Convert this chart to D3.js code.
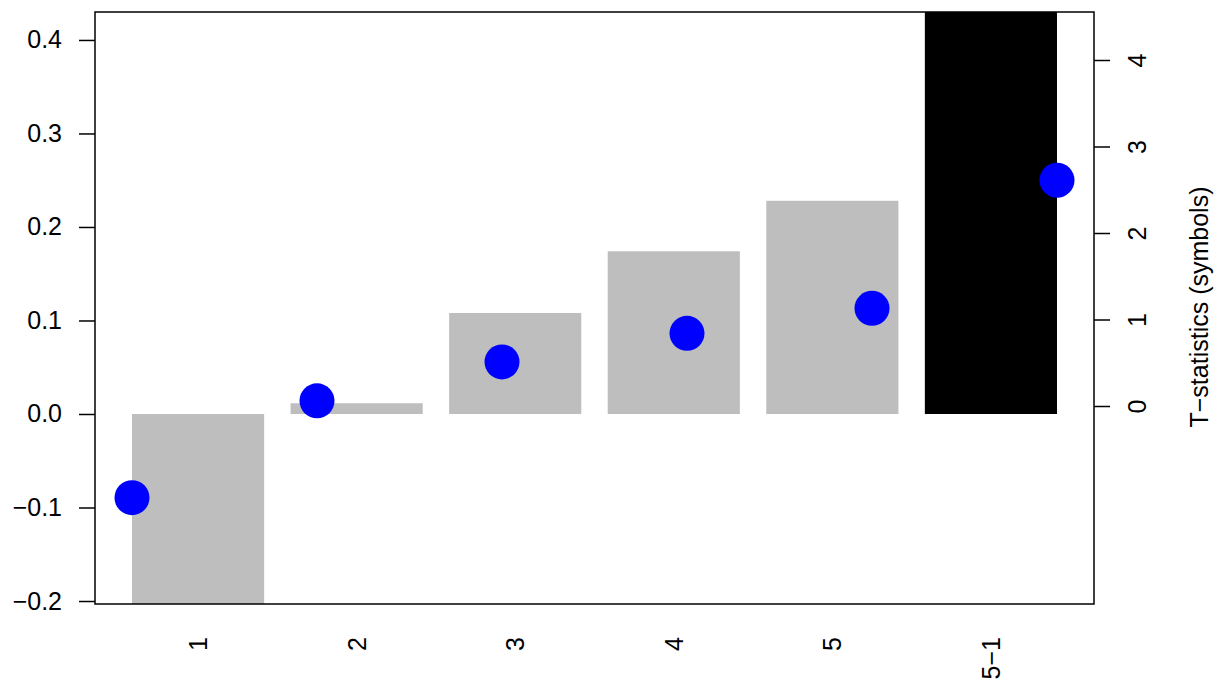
<!DOCTYPE html>
<html>
<head>
<meta charset="utf-8">
<script src="https://cdn.jsdelivr.net/npm/d3@7"></script>
<style>
  body { margin: 0; background: #fff; }
  text { font-family: "Liberation Sans", Arial, sans-serif; }
</style>
</head>
<body>
<svg id="chart" width="1219" height="681"></svg>
<script>
const portfolios = ["1", "2", "3", "4", "5", "5\u22121"];
const returns = [-0.25, 0.0115, 0.108, 0.174, 0.228, 0.478];
const tstats = [-1.06, 0.06, 0.51, 0.84, 1.13, 2.61];
const leftTicks = [-0.2, -0.1, 0.0, 0.1, 0.2, 0.3, 0.4];
const rightTicks = [0, 1, 2, 3, 4];

const pLeft = 95, pRight = 1094, pTop = 12, pBottom = 604;
const fontSize = 25;

const svg = d3.select("#chart");

// barplot x units: width 1, space 0.2
const xBar = d3.scaleLinear([-0.08, 7.48], [pLeft, pRight]);
const xDot = d3.scaleLinear([0.8, 6.2], [pLeft, pRight]);
const yRet = d3.scaleLinear([-0.2032, 0.4299], [pBottom, pTop]);
const yT = d3.scaleLinear([-2.289, 4.555], [pBottom, pTop]);

svg.append("clipPath")
    .attr("id", "plotclip")
    .append("rect")
    .attr("x", pLeft).attr("y", pTop)
    .attr("width", pRight - pLeft).attr("height", pBottom - pTop);

svg.append("g")
    .attr("clip-path", "url(#plotclip)")
    .selectAll("rect")
    .data(returns)
    .enter()
    .append("rect")
    .attr("x", (d, i) => xBar(0.2 + 1.2 * i))
    .attr("width", xBar(1) - xBar(0))
    .attr("y", d => yRet(Math.max(0, d)))
    .attr("height", d => Math.abs(yRet(d) - yRet(0)))
    .attr("fill", (d, i) => i === returns.length - 1 ? "#000000" : "#BEBEBE");

svg.append("g")
    .selectAll("circle")
    .data(tstats)
    .enter()
    .append("circle")
    .attr("cx", (d, i) => xDot(i + 1))
    .attr("cy", d => yT(d))
    .attr("r", 17.5)
    .attr("fill", "#0000FF");

// frame
svg.append("rect")
    .attr("x", pLeft).attr("y", pTop)
    .attr("width", pRight - pLeft).attr("height", pBottom - pTop)
    .attr("fill", "none")
    .attr("stroke", "#000")
    .attr("stroke-width", 1.5);

// left axis
const yAxis = d3.axisLeft(yRet)
    .tickValues(leftTicks)
    .tickFormat(d3.format(".1f"))
    .tickSize(16)
    .tickPadding(17);

const gl = svg.append("g")
    .attr("transform", `translate(${pLeft}, 0)`)
    .call(yAxis);
gl.select(".domain").remove();
gl.selectAll("line").attr("stroke-width", 1.5);
gl.selectAll("text")
    .attr("font-size", fontSize)
    .attr("fill", "#000")
    .attr("font-family", "Liberation Sans, Arial, sans-serif");

// right axis
const yAxisR = d3.axisRight(yT)
    .tickValues(rightTicks)
    .tickFormat(d3.format("d"))
    .tickSize(16);

const gr = svg.append("g")
    .attr("transform", `translate(${pRight}, 0)`)
    .call(yAxisR);
gr.select(".domain").remove();
gr.selectAll("line").attr("stroke-width", 1.5);
gr.selectAll("text")
    .attr("x", null).attr("dy", null)
    .attr("font-size", fontSize)
    .attr("fill", "#000")
    .attr("font-family", "Liberation Sans, Arial, sans-serif")
    .attr("text-anchor", "middle")
    .attr("transform", "translate(52, 0) rotate(-90)");

// category labels
svg.append("g")
    .selectAll("text")
    .data(portfolios)
    .enter()
    .append("text")
    .attr("transform", (d, i) => `translate(${xBar(0.7 + 1.2 * i) + 9}, ${pBottom + 33}) rotate(-90)`)
    .attr("text-anchor", "end")
    .attr("font-size", fontSize)
    .text(d => d);

svg.append("text")
    .attr("transform", `translate(1208, ${(pTop + pBottom) / 2 - 1}) rotate(-90)`)
    .attr("text-anchor", "middle")
    .attr("font-size", fontSize)
    .text("T\u2212statistics (symbols)");
</script>
</body>
</html>
